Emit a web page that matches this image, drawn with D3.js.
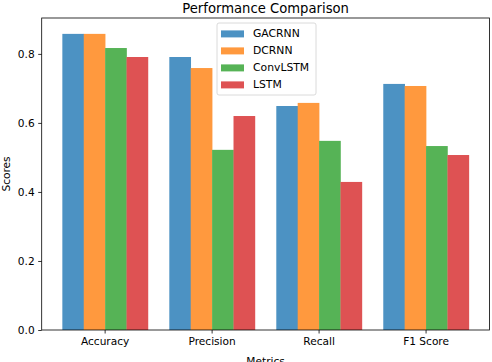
<!DOCTYPE html>
<html>
<head>
<meta charset="utf-8">
<script src="https://cdn.jsdelivr.net/npm/d3@7"></script>
<style>
  body { margin: 0; background: #fff; }
  svg text { font-family: "DejaVu Sans", sans-serif; fill: #000; }
</style>
</head>
<body>
<svg id="chart" width="492" height="362"></svg>
<script>
// data
var metrics = ["Accuracy", "Precision", "Recall", "F1 Score"];
var models = ["GACRNN", "DCRNN", "ConvLSTM", "LSTM"];
var gacrnn = [0.858, 0.791, 0.649, 0.713];
var dcrnn = [0.858, 0.759, 0.658, 0.707];
var convlstm = [0.817, 0.522, 0.548, 0.533];
var lstm = [0.791, 0.620, 0.429, 0.507];
var yTicks = [0.0, 0.2, 0.4, 0.6, 0.8];
var colors = ["#4c92c3", "#ff993e", "#56b356", "#de5253"];

var series = [gacrnn, dcrnn, convlstm, lstm];

// plot box (note: "top" is taken by window.top)
var pLeft = 41.7, pRight = 489.5, pTop = 18, pBottom = 330;

var svg = d3.select("#chart");

var x = d3.scaleBand()
    .domain(metrics)
    .range([pLeft, pRight])
    .paddingInner(0.2)
    .paddingOuter(0.193);

var xs = d3.scaleBand()
    .domain(models)
    .range([0, x.bandwidth()]);

var y = d3.scaleLinear()
    .domain([0, 0.904])
    .range([pBottom, pTop]);

// bars
var groups = svg.selectAll("g.series")
    .data(series)
  .enter().append("g")
    .attr("class", "series")
    .attr("fill", function(d, i) { return colors[i]; });

groups.each(function(vals, si) {
  d3.select(this).selectAll("rect")
      .data(vals)
    .enter().append("rect")
      .attr("x", function(d, i) { return x(metrics[i]) + xs(models[si]); })
      .attr("y", function(d) { return y(d); })
      .attr("width", xs.bandwidth() + 0.3)
      .attr("height", function(d) { return y(0) - y(d); });
});

// axes
var yAxis = svg.append("g")
    .attr("transform", "translate(" + pLeft + ",0)")
    .call(d3.axisLeft(y).tickValues(yTicks).tickFormat(d3.format(".1f")).tickSize(3.5).tickPadding(3.5));

var xAxis = svg.append("g")
    .attr("transform", "translate(0," + pBottom + ")")
    .call(d3.axisBottom(x).tickSize(3.5).tickPadding(3.5).tickSizeOuter(0));

[xAxis, yAxis].forEach(function(a) {
  a.select(".domain").remove();
  a.selectAll("line").attr("stroke", "#000").attr("stroke-width", 0.8);
  a.selectAll("text").style("font-size", "10.6px").style("font-family", "DejaVu Sans");
});

// frame
svg.append("rect")
    .attr("x", pLeft)
    .attr("y", pTop)
    .attr("width", pRight - pLeft)
    .attr("height", pBottom - pTop)
    .attr("fill", "none")
    .attr("stroke", "#000")
    .attr("stroke-width", 0.8);

// title + axis labels
svg.append("text")
    .attr("x", (pLeft + pRight) / 2)
    .attr("y", 12.5)
    .attr("text-anchor", "middle")
    .style("font-size", "13.2px")
    .text("Performance Comparison");

svg.append("text")
    .attr("x", (pLeft + pRight) / 2)
    .attr("y", 364.5)
    .attr("text-anchor", "middle")
    .style("font-size", "10.6px")
    .text("Metrics");

svg.append("text")
    .attr("transform", "translate(10," + ((pTop + pBottom) / 2) + ") rotate(-90)")
    .attr("text-anchor", "middle")
    .style("font-size", "10.6px")
    .text("Scores");

// legend
var legend = svg.append("g").attr("transform", "translate(217,23)");
legend.append("rect")
    .attr("width", 99)
    .attr("height", 72)
    .attr("rx", 2)
    .attr("fill", "#fff")
    .attr("fill-opacity", 0.8)
    .attr("stroke", "#d0d0d0")
    .attr("stroke-width", 0.8);

var item = legend.selectAll("g.item")
    .data(models)
  .enter().append("g")
    .attr("class", "item")
    .attr("transform", function(d, i) { return "translate(0," + (10.7 + i * 17) + ")"; });

item.append("rect")
    .attr("x", 4)
    .attr("y", -3.3)
    .attr("width", 23)
    .attr("height", 7)
    .attr("fill", function(d, i) { return colors[i]; });

item.append("text")
    .attr("x", 36)
    .attr("dy", "0.35em")
    .style("font-size", "10.8px")
    .text(function(d) { return d; });
</script>
</body>
</html>
